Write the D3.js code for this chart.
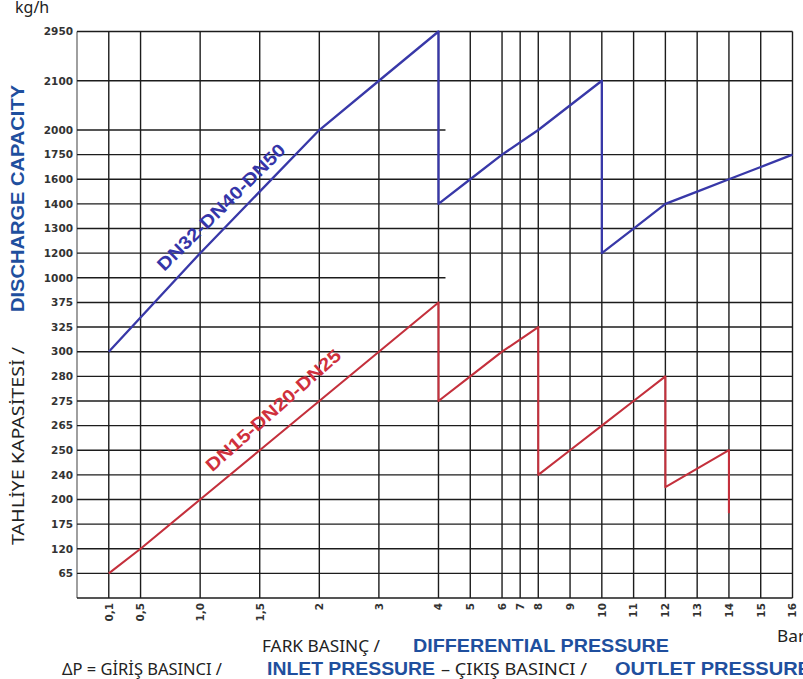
<!DOCTYPE html>
<html>
<head>
<meta charset="utf-8">
<script src="https://cdn.jsdelivr.net/npm/d3@7"></script>
<style>
  body { margin: 0; background: #fff; }
  svg { display: block; }
</style>
</head>
<body>
<svg id="chart" width="803" height="679"></svg>
<script>
// y labels, top to bottom, and the grid row each one sits on
const yTicks = [2950, 2100, 2000, 1750, 1600, 1400, 1300, 1200, 1000, 375, 325, 300, 280, 275, 265, 250, 240, 200, 175, 120, 65]
const yRows = [0, 2, 4, 5, 6, 7, 8, 9, 10, 11, 12, 13, 14, 15, 16, 17, 18, 19, 20, 21, 22]

const xTicks = [0.1, 0.5, 1, 1.5, 2, 3, 4, 5, 6, 7, 8, 9, 10, 11, 12, 13, 14, 15, 16]
const xTickLabels = ["0,1", "0,5", "1,0", "1,5", "2", "3", "4", "5", "6", "7", "8", "9", "10", "11", "12", "13", "14", "15", "16"]
// relative column widths in front of each x tick
const colUnits = [1, 1, 1.875, 1.875, 1.875, 1.875, 1.875, 1, 1, 0.57, 0.57, 1, 1, 1, 1, 1, 1, 1, 1]

const blueSeries = [[0.1, 300], [1, 1200], [2, 2000], [3, 2100], [4, 2950], [4, 1400], [5, 1600], [6, 1750], [8, 2000], [10, 2100],
  [10, 1200], [11, 1300], [12, 1400], [13, 1500], [14, 1600], [15, 1675], [16, 1750]]
const redSeries = [[0.1, 65], [0.5, 120], [1, 200], [1.5, 250], [2, 275], [3, 300], [4, 375], [4, 275], [5, 280], [6, 300], [8, 325],
  [8, 240], [9, 250], [10, 265], [11, 275], [12, 280], [12, 220], [14, 250], [14, 186]]

// horizontal lines that stop at x = 4
const shortRows = [2000, 1000]

const plotLeft = 77, plotRight = 792.5, plotTop = 31.5, plotBottom = 598

var cum = [0]
colUnits.forEach(u => cum.push(cum[cum.length - 1] + u))
const unitScale = d3.scaleLinear().domain([0, cum[cum.length - 1]]).range([plotLeft, plotRight])
const x = d3.scaleLinear()
  .domain([0].concat(xTicks))
  .range(cum.map(unitScale))

const rowScale = d3.scaleLinear().domain([0, 23]).range([plotTop, plotBottom])
const y = d3.scaleLinear()
  .domain(yTicks)
  .range(yRows.map(rowScale))

var svg = d3.select("#chart")

var grid = svg.append("g")
  .attr("stroke", "#1c1c1c")
  .attr("stroke-width", 1.4)

grid.selectAll("line.v")
  .data([0].concat(xTicks))
  .enter().append("line")
  .attr("class", "v")
  .attr("x1", d => x(d)).attr("x2", d => x(d))
  .attr("y1", plotTop).attr("y2", plotBottom)
  .attr("stroke", (d, i) => i === 0 ? "#777" : null)

grid.selectAll("line.h")
  .data(yTicks.concat(["bottom"]))
  .enter().append("line")
  .attr("class", "h")
  .attr("x1", plotLeft)
  .attr("x2", d => shortRows.includes(d) ? x(4) + 7 : plotRight)
  .attr("y1", d => d === "bottom" ? plotBottom : y(d))
  .attr("y2", d => d === "bottom" ? plotBottom : y(d))

var line = d3.line()
  .x(d => x(d[0]))
  .y(d => y(d[1]))

svg.append("path")
  .datum(blueSeries)
  .attr("d", line)
  .attr("fill", "none")
  .attr("stroke", "#3838a8")
  .attr("stroke-width", 2.3)
  .attr("stroke-linejoin", "round")

svg.append("path")
  .datum(redSeries)
  .attr("d", line)
  .attr("fill", "none")
  .attr("stroke", "#c4303c")
  .attr("stroke-width", 2.1)
  .attr("stroke-linejoin", "round")

// series labels
svg.append("text")
  .attr("transform", "translate(221,207) rotate(-44.6)")
  .attr("text-anchor", "middle")
  .attr("dy", "0.36em")
  .attr("font-family", "'Liberation Sans', Arial, sans-serif")
  .attr("font-weight", "bold")
  .attr("font-size", 18)
  .attr("textLength", 172)
  .attr("lengthAdjust", "spacingAndGlyphs")
  .attr("fill", "#3535a8")
  .text("DN32-DN40-DN50")

svg.append("text")
  .attr("transform", "translate(273,410) rotate(-41.5)")
  .attr("text-anchor", "middle")
  .attr("dy", "0.36em")
  .attr("font-family", "'Liberation Sans', Arial, sans-serif")
  .attr("font-weight", "bold")
  .attr("font-size", 18)
  .attr("textLength", 174)
  .attr("lengthAdjust", "spacingAndGlyphs")
  .attr("fill", "#d0303c")
  .text("DN15-DN20-DN25")

// tick labels
svg.append("g")
  .selectAll("text")
  .data(yTicks)
  .enter().append("text")
  .attr("x", 73)
  .attr("y", d => y(d))
  .attr("dy", "0.36em")
  .attr("text-anchor", "end")
  .attr("font-family", "'DejaVu Sans', Verdana, sans-serif")
  .attr("font-weight", "bold")
  .attr("font-size", 10.5)
  .attr("fill", "#333")
  .text(d => d)

svg.append("g")
  .selectAll("text")
  .data(xTicks)
  .enter().append("text")
  .attr("transform", d => `translate(${x(d)},603) rotate(-90)`)
  .attr("dy", "0.36em")
  .attr("text-anchor", "end")
  .attr("font-family", "'DejaVu Sans', Verdana, sans-serif")
  .attr("font-weight", "bold")
  .attr("font-size", 10.5)
  .attr("fill", "#333")
  .text((d, i) => xTickLabels[i])

// axis titles
const regular = "'Noto Sans', 'Liberation Sans', sans-serif"
const bold = "'Liberation Sans', Arial, sans-serif"
const titleBlue = "#1f4f9e"

svg.append("text")
  .attr("x", 15).attr("y", 13)
  .attr("font-family", regular)
  .attr("font-size", 16)
  .attr("fill", "#222")
  .text("kg/h")

svg.append("text")
  .attr("transform", "translate(24,198.5) rotate(-90)")
  .attr("text-anchor", "middle")
  .attr("font-family", bold)
  .attr("font-weight", "bold")
  .attr("font-size", 19)
  .attr("textLength", 227)
  .attr("lengthAdjust", "spacingAndGlyphs")
  .attr("fill", titleBlue)
  .text("DISCHARGE CAPACITY")

svg.append("text")
  .attr("transform", "translate(24,446) rotate(-90)")
  .attr("text-anchor", "middle")
  .attr("font-family", regular)
  .attr("font-size", 17)
  .attr("textLength", 198)
  .attr("lengthAdjust", "spacingAndGlyphs")
  .attr("fill", "#222")
  .text("TAHLİYE KAPASİTESİ /")

const bottomTexts = [
  {t: "FARK BASINÇ /", x: 262, y: 652, w: 118, b: false},
  {t: "DIFFERENTIAL PRESSURE", x: 413, y: 652, w: 256, b: true},
  {t: "ΔP = GİRİŞ BASINCI /", x: 62, y: 675, w: 160, b: false},
  {t: "INLET PRESSURE", x: 267, y: 675, w: 168, b: true},
  {t: "– ÇIKIŞ BASINCI /", x: 441, y: 675, w: 146, b: false},
  {t: "OUTLET PRESSURE", x: 615, y: 675, w: 196, b: true},
  {t: "Bar", x: 777, y: 642, w: 28, b: false}
]

svg.append("g")
  .selectAll("text")
  .data(bottomTexts)
  .enter().append("text")
  .attr("x", d => d.x)
  .attr("y", d => d.y)
  .attr("font-family", d => d.b ? bold : regular)
  .attr("font-weight", d => d.b ? "bold" : "normal")
  .attr("font-size", d => d.b ? 18 : 16)
  .attr("textLength", d => d.w)
  .attr("lengthAdjust", "spacingAndGlyphs")
  .attr("fill", d => d.b ? titleBlue : "#222")
  .text(d => d.t)
</script>
</body>
</html>
